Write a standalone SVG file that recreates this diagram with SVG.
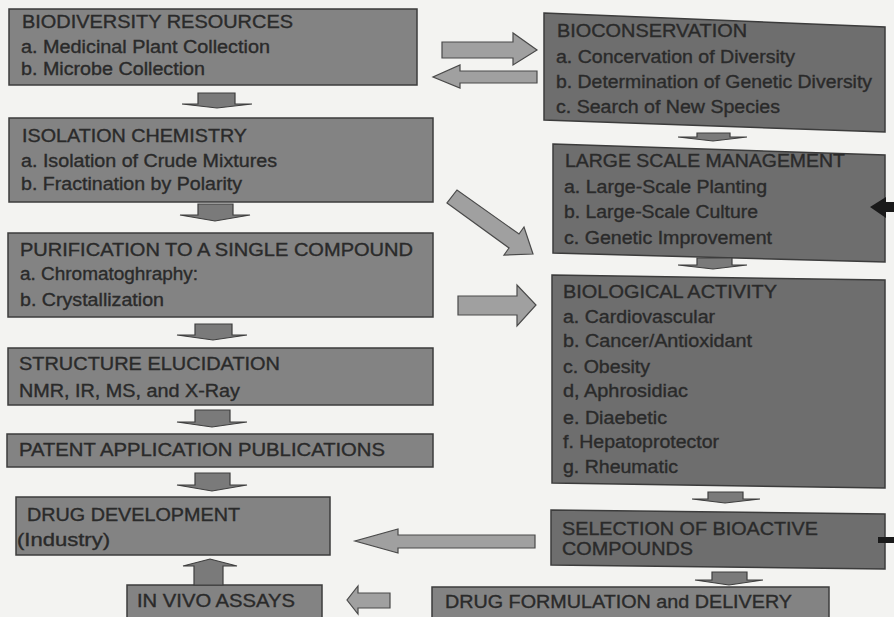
<svg xmlns="http://www.w3.org/2000/svg" width="894" height="617" viewBox="0 0 894 617">
<style>
.bg{fill:#f3f3f1}
.lb{fill:#838383;stroke:#3c3c3c;stroke-width:1.5}
.rb{fill:#6e6e6e;stroke:#3c3c3c;stroke-width:1.5}
.t{font-family:"Liberation Sans",Arial,sans-serif;font-size:17.5px;fill:#2a2a2a;stroke:#2a2a2a;stroke-width:0.35}
.big{fill:#a0a0a0;stroke:#4a4a4a;stroke-width:1.2}
.sm{fill:#7a7a7a;stroke:#3e3e3e;stroke-width:1.2}
.blk{fill:#1a1a1a}
</style>
<rect class="bg" x="0" y="0" width="894" height="617"/>

<g id="biodiversity">
  <rect class="lb" x="9" y="9" width="408" height="76"/>
  <text class="t" x="22" y="28" textLength="271" lengthAdjust="spacingAndGlyphs">BIODIVERSITY RESOURCES</text>
  <text class="t" x="21" y="53" textLength="249" lengthAdjust="spacingAndGlyphs">a. Medicinal Plant Collection</text>
  <text class="t" x="21" y="75" textLength="184" lengthAdjust="spacingAndGlyphs">b. Microbe Collection</text>
</g>
<g id="isolation">
  <rect class="lb" x="9" y="118" width="424" height="84"/>
  <text class="t" x="22" y="142" textLength="225" lengthAdjust="spacingAndGlyphs">ISOLATION CHEMISTRY</text>
  <text class="t" x="21" y="167" textLength="256" lengthAdjust="spacingAndGlyphs">a. Isolation of Crude Mixtures</text>
  <text class="t" x="21" y="190" textLength="221" lengthAdjust="spacingAndGlyphs">b. Fractination by Polarity</text>
</g>
<g id="purification">
  <rect class="lb" x="8" y="233" width="425" height="84"/>
  <text class="t" x="20" y="256" textLength="393" lengthAdjust="spacingAndGlyphs">PURIFICATION TO A SINGLE COMPOUND</text>
  <text class="t" x="20" y="280" textLength="178" lengthAdjust="spacingAndGlyphs">a. Chromatoghraphy:</text>
  <text class="t" x="20" y="306" textLength="144" lengthAdjust="spacingAndGlyphs">b. Crystallization</text>
</g>
<g id="structure">
  <rect class="lb" x="8" y="348" width="425" height="57"/>
  <text class="t" x="19" y="370" textLength="261" lengthAdjust="spacingAndGlyphs">STRUCTURE ELUCIDATION</text>
  <text class="t" x="19" y="397" textLength="221" lengthAdjust="spacingAndGlyphs">NMR, IR, MS, and X-Ray</text>
</g>
<g id="patent">
  <rect class="lb" x="7" y="434" width="426" height="33"/>
  <text class="t" x="19" y="456" textLength="366" lengthAdjust="spacingAndGlyphs">PATENT APPLICATION PUBLICATIONS</text>
</g>
<g id="drugdev">
  <rect class="lb" x="16" y="497" width="314" height="58"/>
  <text class="t" x="27" y="521" textLength="213" lengthAdjust="spacingAndGlyphs">DRUG DEVELOPMENT</text>
  <text class="t" x="17" y="546" textLength="93" lengthAdjust="spacingAndGlyphs">(Industry)</text>
</g>
<g id="invivo">
  <rect class="lb" x="127" y="585" width="195" height="40"/>
  <text class="t" x="137" y="607" textLength="158" lengthAdjust="spacingAndGlyphs">IN VIVO ASSAYS</text>
</g>
<g id="formulation">
  <rect class="lb" x="432" y="587" width="397" height="40"/>
  <text class="t" x="445" y="608" textLength="347" lengthAdjust="spacingAndGlyphs">DRUG FORMULATION and DELIVERY</text>
</g>

<g id="bioconservation">
  <polygon class="rb" points="544,13 885,27 885,132 544,120"/>
  <text class="t" x="557" y="37" textLength="190" lengthAdjust="spacingAndGlyphs">BIOCONSERVATION</text>
  <text class="t" x="556" y="63" textLength="239" lengthAdjust="spacingAndGlyphs">a. Concervation of Diversity</text>
  <text class="t" x="556" y="88" textLength="316" lengthAdjust="spacingAndGlyphs">b. Determination of Genetic Diversity</text>
  <text class="t" x="556" y="113" textLength="224" lengthAdjust="spacingAndGlyphs">c. Search of New Species</text>
</g>
<g id="largescale">
  <polygon class="rb" points="553,144 885,155 885,262 553,253"/>
  <text class="t" x="565" y="167" textLength="280" lengthAdjust="spacingAndGlyphs">LARGE SCALE MANAGEMENT</text>
  <text class="t" x="564" y="193" textLength="203" lengthAdjust="spacingAndGlyphs">a. Large-Scale Planting</text>
  <text class="t" x="564" y="218" textLength="194" lengthAdjust="spacingAndGlyphs">b. Large-Scale Culture</text>
  <text class="t" x="564" y="244" textLength="208" lengthAdjust="spacingAndGlyphs">c. Genetic Improvement</text>
</g>
<g id="biological">
  <polygon class="rb" points="552,275 885,280 885,488 552,483"/>
  <text class="t" x="563" y="298" textLength="214" lengthAdjust="spacingAndGlyphs">BIOLOGICAL ACTIVITY</text>
  <text class="t" x="563" y="323" textLength="152" lengthAdjust="spacingAndGlyphs">a. Cardiovascular</text>
  <text class="t" x="563" y="347" textLength="189" lengthAdjust="spacingAndGlyphs">b. Cancer/Antioxidant</text>
  <text class="t" x="563" y="373" textLength="87" lengthAdjust="spacingAndGlyphs">c. Obesity</text>
  <text class="t" x="563" y="397" textLength="125" lengthAdjust="spacingAndGlyphs">d, Aphrosidiac</text>
  <text class="t" x="563" y="424" textLength="104" lengthAdjust="spacingAndGlyphs">e. Diaebetic</text>
  <text class="t" x="563" y="448" textLength="156" lengthAdjust="spacingAndGlyphs">f. Hepatoprotector</text>
  <text class="t" x="563" y="473" textLength="115" lengthAdjust="spacingAndGlyphs">g. Rheumatic</text>
</g>
<g id="selection">
  <polygon class="rb" points="551,510 885,514 885,569 551,565"/>
  <text class="t" x="562" y="535" textLength="256" lengthAdjust="spacingAndGlyphs">SELECTION OF BIOACTIVE</text>
  <text class="t" x="562" y="555" textLength="131" lengthAdjust="spacingAndGlyphs">COMPOUNDS</text>
</g>

<g id="connectors">
  <path class="sm" d="M198,93 H235 V104 H252 L217,108 L182,104 H198 Z"/>
  <path class="sm" d="M198,204 H233 V215 H250 L215,221 L180,215 H198 Z"/>
  <path class="sm" d="M195,324 H232 V335 H247 L213,340 L177,335 H195 Z"/>
  <path class="sm" d="M195,410 H230 V422 H247 L212,427 L177,422 H195 Z"/>
  <path class="sm" d="M195,473 H230 V485 H247 L212,491 L177,485 H195 Z"/>
  <path class="sm" d="M194,585 V566 H183 L210,559 L237,566 H223 V585 Z"/>
  <path class="sm" d="M697,133 H730 V137 H747 L713,141 L678,137 H697 Z"/>
  <path class="sm" d="M697,258 H732 V265 H747 L713,269 L678,265 H697 Z"/>
  <path class="sm" d="M708,492 H743 V499 H760 L725,503 L692,499 H708 Z"/>
  <path class="sm" d="M712,572 H747 V580 H763 L729,585 L695,580 H712 Z"/>
  <path class="big" d="M442,42 H513 V33 L537,50 L513,65 V58 H442 Z"/>
  <path class="big" d="M537,71 H460 V65 L433,77 L460,88 V83 H537 Z"/>
  <path class="big" d="M447,203 L509,248 L504,255 L533,254 L524,227 L519,234 L457,190 Z"/>
  <path class="big" d="M458,296 H517 V285 L536,305 L517,326 V315 H458 Z"/>
  <path class="big" d="M535,535 H398 V529 L355,541 L398,553 V548 H535 Z"/>
  <path class="big" d="M390,593 H358 V586 L347,600 L358,614 V608 H390 Z"/>
  <path class="blk" d="M870,207 L886,197 V202 H894 V212 H886 V218 Z"/>
  <rect class="blk" x="878" y="537" width="16" height="6"/>
</g>
</svg>
